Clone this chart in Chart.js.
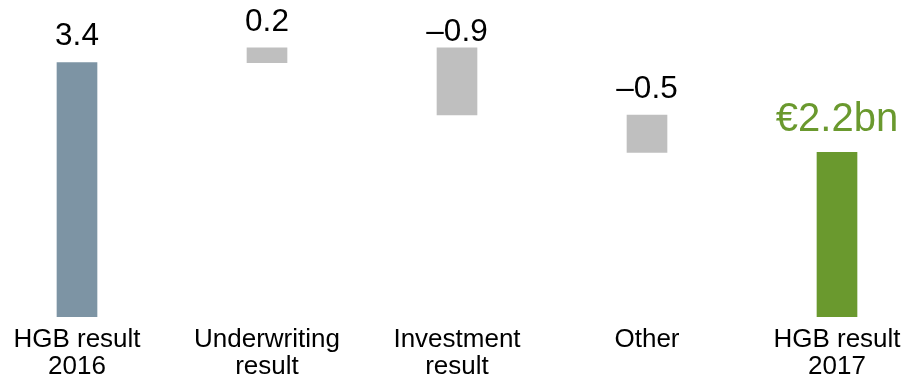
<!DOCTYPE html>
<html>
<head>
<meta charset="utf-8">
<script src="https://cdn.jsdelivr.net/npm/chart.js@4/dist/chart.umd.min.js"></script>
<style>
  html, body { margin: 0; padding: 0; background: #ffffff; }
  #wrap { width: 905px; height: 378px; position: relative; }
</style>
</head>
<body>
<div id="wrap"><canvas id="chart"></canvas></div>
<script>
// HGB result bridge 2016 -> 2017 (EUR bn)
const categories = [
  ['HGB result', '2016'],
  ['Underwriting', 'result'],
  ['Investment', 'result'],
  ['Other'],
  ['HGB result', '2017']
];
const changes = [3.4, 0.2, -0.9, -0.5, 2.2];   // first and last are totals
const isTotal = [true, false, false, false, true];
const barColors = ['#7d94a4', '#bfbfbf', '#bfbfbf', '#bfbfbf', '#6a992e'];
const labelColors = ['#000000', '#000000', '#000000', '#000000', '#6a992e'];

// floating segments: totals start at zero, changes start at the running total
const segments = [];
let running = 0;
changes.forEach((v, i) => {
  if (isTotal[i]) {
    segments.push({ x: i, y: [0, v] });
    running = v;
  } else {
    segments.push({ x: i, y: [running, running + v] });
    running += v;
  }
});

function fmt(v, i) {
  if (i === changes.length - 1) return '\u20ac' + v.toFixed(1) + 'bn';
  return (v < 0 ? '\u2013' : '') + Math.abs(v).toFixed(1);
}

const valueLabels = {
  id: 'valueLabels',
  afterDatasetsDraw(chart, args, opts) {
    const ctx = chart.ctx;
    const meta = chart.getDatasetMeta(0);
    ctx.save();
    ctx.textAlign = 'center';
    ctx.textBaseline = 'alphabetic';
    meta.data.forEach((bar, i) => {
      const top = Math.min(bar.y, bar.base);
      ctx.fillStyle = labelColors[i];
      ctx.font = (i === changes.length - 1 ? opts.bigSize : opts.size) + 'px "Liberation Sans", Arial, sans-serif';
      ctx.fillText(fmt(changes[i], i), bar.x, top - opts.gaps[i]);
    });
    ctx.restore();
  }
};

new Chart(document.getElementById('chart'), {
  type: 'bar',
  data: {
    datasets: [{
      data: segments,
      backgroundColor: barColors,
      borderWidth: 0,
      barThickness: 40
    }]
  },
  plugins: [valueLabels],
  options: {
    responsive: true,
    maintainAspectRatio: false,
    animation: false,
    layout: { padding: 0 },
    plugins: {
      legend: { display: false },
      tooltip: { enabled: false },
      valueLabels: { size: 31.5, bigSize: 40, gaps: [18, 17, 7, 17, 21] }
    },
    scales: {
      x: {
        type: 'linear',
        offset: false,
        min: -77 / 190,
        max: (905 - 77) / 190,
        grid: { display: false, offset: false },
        border: { display: false },
        afterBuildTicks(scale) {
          scale.ticks = categories.map((c, i) => ({ value: i }));
        },
        afterFit(scale) { scale.height = 61; },
        ticks: {
          autoSkip: false,
          maxRotation: 0,
          minRotation: 0,
          padding: 1,
          color: '#000000',
          font: { family: '"Liberation Sans", Arial, sans-serif', size: 26, lineHeight: 1.05 },
          callback: (v) => categories[v] || ''
        }
      },
      y: {
        display: false,
        min: 0,
        max: 4.238
      }
    }
  }
});
</script>
</body>
</html>
